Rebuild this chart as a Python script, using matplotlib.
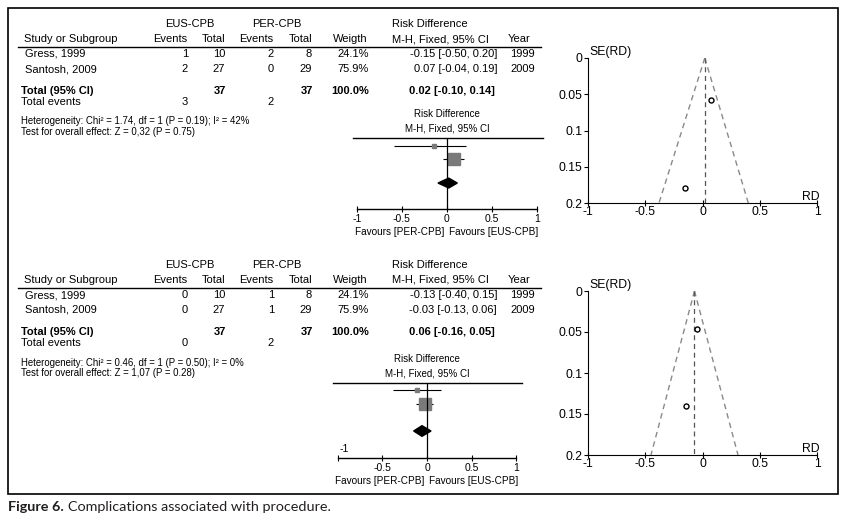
"""
Forest plots and funnel plots: complications associated with procedure
"""

import matplotlib
matplotlib.use('Agg')
import matplotlib.pyplot as plt
import matplotlib.patches as patches

plt.rcParams['font.family'] = ['Liberation Sans', 'DejaVu Sans']

W, H = 855, 525

# ---- data ----
studies = ['Gress, 1999', 'Santosh, 2009']
years = ['1999', '2009']
weight_txt = ['24.1%', '75.9%']
weights = [24.1, 75.9]

# panel A
a_eus_events = [1, 2]
a_eus_total = [10, 27]
a_per_events = [2, 0]
a_per_total = [8, 29]
a_rd_txt = ['-0.15 [-0.50, 0.20]', '0.07 [-0.04, 0.19]']
a_total_txt = '0.02 [-0.10, 0.14]'
a_total_n = [37, 37]
a_total_events = [3, 2]
a_het = 'Heterogeneity: Chi\u00b2 = 1.74, df = 1 (P = 0.19); I\u00b2 = 42%'
a_test = 'Test for overall effect: Z = 0,32 (P = 0.75)'
a_rd = [-0.14, 0.074]
a_lo = [-0.59, -0.044]
a_hi = [0.21, 0.19]
a_pool = (0.02, -0.10, 0.115)
a_fun_rd = [-0.15, 0.07]
a_fun_se = [0.179, 0.058]
a_fun_lims = (-0.38, 0.40)

# panel B
b_eus_events = [0, 0]
b_eus_total = [10, 27]
b_per_events = [1, 1]
b_per_total = [8, 29]
b_rd_txt = ['-0.13 [-0.40, 0.15]', '-0.03 [-0.13, 0.06]']
b_total_txt = '0.06 [-0.16, 0.05]'
b_total_n = [37, 37]
b_total_events = [0, 2]
b_het = 'Heterogeneity: Chi\u00b2 = 0.46, df = 1 (P = 0.50); I\u00b2 = 0%'
b_test = 'Test for overall effect: Z = 1,07 (P = 0.28)'
b_rd = [-0.11, -0.026]
b_lo = [-0.38, -0.12]
b_hi = [0.157, 0.067]
b_pool = (-0.056, -0.15, 0.045)
b_fun_rd = [-0.14, -0.05]
b_fun_se = [0.14, 0.046]
b_fun_lims = (-0.45, 0.31)

rd_ticks = [-1, -0.5, 0, 0.5, 1]
se_ticks = [0, 0.05, 0.1, 0.15, 0.2]


def px_axes(fig, x0, y0, x1, y1):
    """axes placed by pixel box (y from top)"""
    return fig.add_axes([x0 / W, 1 - y1 / H, (x1 - x0) / W, (y1 - y0) / H])


def draw_table(ax, dy, eus_ev, eus_tot, per_ev, per_tot, rd_txt, tot_txt,
               tot_n, tot_ev, het, test):
    fs = 8
    ax.text(190, 24 + dy, 'EUS-CPB', ha='center', va='center', fontsize=fs)
    ax.text(277, 24 + dy, 'PER-CPB', ha='center', va='center', fontsize=fs)
    ax.text(392, 24 + dy, 'Risk Difference', ha='left', va='center', fontsize=fs)
    hdr_y = 39 + dy
    ax.text(24, hdr_y, 'Study or Subgroup', ha='left', va='center', fontsize=fs)
    for x, s in [(187, 'Events'), (225, 'Total'), (273, 'Events'),
                 (312, 'Total'), (368, 'Weigth')]:
        ax.text(x, hdr_y, s, ha='right', va='center', fontsize=fs)
    ax.text(392, hdr_y, 'M-H, Fixed, 95% CI', ha='left', va='center', fontsize=fs)
    ax.text(508, hdr_y, 'Year', ha='left', va='center', fontsize=fs)
    ax.plot([18, 541], [46.5 + dy, 46.5 + dy], color='black', lw=1)

    for i, name in enumerate(studies):
        y = [54, 69][i] + dy
        ax.text(25, y, name, ha='left', va='center', fontsize=fs)
        ax.text(188, y, str(eus_ev[i]), ha='right', va='center', fontsize=fs)
        ax.text(225, y, str(eus_tot[i]), ha='right', va='center', fontsize=fs)
        ax.text(274, y, str(per_ev[i]), ha='right', va='center', fontsize=fs)
        ax.text(312, y, str(per_tot[i]), ha='right', va='center', fontsize=fs)
        ax.text(369, y, weight_txt[i], ha='right', va='center', fontsize=fs)
        ax.text(497, y, rd_txt[i], ha='right', va='center', fontsize=fs)
        ax.text(535, y, years[i], ha='right', va='center', fontsize=fs)

    y = 91 + dy
    ax.text(21, y, 'Total (95% CI)', ha='left', va='center', fontsize=fs,
            fontweight='bold')
    ax.text(226, y, str(tot_n[0]), ha='right', va='center', fontsize=fs,
            fontweight='bold')
    ax.text(313, y, str(tot_n[1]), ha='right', va='center', fontsize=fs,
            fontweight='bold')
    ax.text(369, y, '100.0%', ha='right', va='center', fontsize=fs,
            fontweight='bold')
    ax.text(495, y, tot_txt, ha='right', va='center', fontsize=fs,
            fontweight='bold')
    y = 102 + dy
    ax.text(21, y, 'Total events', ha='left', va='center', fontsize=fs)
    ax.text(188, y, str(tot_ev[0]), ha='right', va='center', fontsize=fs)
    ax.text(274, y, str(tot_ev[1]), ha='right', va='center', fontsize=fs)

    ax.text(21, 121.5 + dy, het, ha='left', va='center', fontsize=6.9)
    ax.text(21, 132 + dy, test, ha='left', va='center', fontsize=6.9)


def draw_forest(ax, rd, lo, hi, pool, xlim, ylim, diamond_row, odd_minus_one):
    ax.set_xlim(*xlim)
    ax.set_ylim(*ylim)
    rows = list(range(len(rd)))
    ax.hlines(rows, lo, hi, color='black', lw=0.8)
    for r, x, w in zip(rows, rd, weights):
        ax.plot(x, r, marker='s', ms=0.105 * w, color='#7a7a7a', mec='#7a7a7a')
    est, plo, phi = pool
    hh = 0.38
    dia = patches.Polygon([(plo, diamond_row), (est, diamond_row - hh),
                           (phi, diamond_row), (est, diamond_row + hh)],
                          closed=True, facecolor='black', edgecolor='black')
    ax.add_patch(dia)
    ax.axvline(0, color='black', lw=0.9)

    for s in ['left', 'right']:
        ax.spines[s].set_visible(False)
    ax.spines['top'].set_linewidth(1)
    ax.spines['bottom'].set_bounds(-1, 1)
    ax.spines['bottom'].set_linewidth(1)
    ax.set_yticks([])
    ax.set_xticks(rd_ticks)
    labels = ['-1', '-0.5', '0', '0.5', '1']
    if odd_minus_one:
        labels[0] = ''
        ax.annotate('-1', xy=(-1, 0), xycoords=('data', 'axes fraction'),
                    xytext=(1, 3), textcoords='offset points',
                    ha='left', va='bottom', fontsize=7.5)
    ax.set_xticklabels(labels)
    ax.tick_params(axis='x', direction='inout', length=5, width=0.8,
                   labelsize=7.5, pad=1)

    ax.annotate('M-H, Fixed, 95% CI', xy=(0, 1), xycoords=('data', 'axes fraction'),
                xytext=(0, 3), textcoords='offset points', ha='center',
                va='bottom', fontsize=7)
    ax.annotate('Risk Difference', xy=(0, 1), xycoords=('data', 'axes fraction'),
                xytext=(0, 13.5), textcoords='offset points', ha='center',
                va='bottom', fontsize=7)
    ax.annotate('Favours [PER-CPB]', xy=(-0.03, 0),
                xycoords=('data', 'axes fraction'), xytext=(0, -13),
                textcoords='offset points', ha='right', va='top', fontsize=7.2)
    ax.annotate('Favours [EUS-CPB]', xy=(0.02, 0),
                xycoords=('data', 'axes fraction'), xytext=(0, -13),
                textcoords='offset points', ha='left', va='top', fontsize=7.2)


def draw_funnel(ax, fun_rd, fun_se, pool_est, lims):
    ax.set_xlim(-1, 1)
    ax.set_ylim(0.2, 0)
    ax.plot([pool_est, lims[0]], [0, 0.2], ls=(0, (4, 3)), color='#8a8a8a', lw=1)
    ax.plot([pool_est, lims[1]], [0, 0.2], ls=(0, (4, 3)), color='#8a8a8a', lw=1)
    ax.plot([pool_est, pool_est], [0, 0.2], ls=(0, (4, 3)), color='#555555', lw=0.9)
    ax.plot(fun_rd, fun_se, ls='none', marker='o', ms=3.6, mfc='white',
            mec='black', mew=1)
    for s in ['top', 'right']:
        ax.spines[s].set_visible(False)
    ax.set_xticks(rd_ticks)
    ax.set_xticklabels(['-1', '-0.5', '0', '0.5', '1'])
    ax.set_yticks(se_ticks)
    ax.set_yticklabels(['0', '0.05', '0.1', '0.15', '0.2'])
    ax.tick_params(axis='x', direction='inout', length=4, labelsize=8.8, pad=0)
    ax.tick_params(axis='y', direction='out', length=3, labelsize=8.8, pad=1)
    ax.text(-0.985, 0, 'SE(RD)', ha='left', va='bottom', fontsize=8.8)
    ax.text(1.02, 0.2, 'RD', ha='right', va='bottom', fontsize=8.8)


fig = plt.figure(figsize=(W / 100, H / 100), dpi=100)
ax0 = fig.add_axes([0, 0, 1, 1])
ax0.set_xlim(0, W)
ax0.set_ylim(H, 0)
ax0.axis('off')

ax0.add_patch(patches.Rectangle((8, 8), 830, 486, fill=False,
                                edgecolor='black', lw=1.2))

draw_table(ax0, 0, a_eus_events, a_eus_total, a_per_events, a_per_total,
           a_rd_txt, a_total_txt, a_total_n, a_total_events, a_het, a_test)
draw_table(ax0, 241, b_eus_events, b_eus_total, b_per_events, b_per_total,
           b_rd_txt, b_total_txt, b_total_n, b_total_events, b_het, b_test)

fa = px_axes(fig, 353, 138, 543, 209)
draw_forest(fa, a_rd, a_lo, a_hi, a_pool, (-1.044, 1.067), (4.85, -0.62),
            2.85, False)
fb = px_axes(fig, 333, 383, 522, 458)
draw_forest(fb, b_rd, b_lo, b_hi, b_pool, (-1.053, 1.064), (4.86, -0.5),
            2.93, True)

ga = px_axes(fig, 588, 58, 817, 203)
draw_funnel(ga, a_fun_rd, a_fun_se, a_pool[0], a_fun_lims)
gb = px_axes(fig, 588, 291, 817, 455)
draw_funnel(gb, b_fun_rd, b_fun_se, -0.07, b_fun_lims)

# caption
cap1 = ax0.text(8, 507, 'Figure 6.', ha='left', va='center', fontsize=10.4,
                fontweight='bold', family=['Lato', 'DejaVu Sans'],
                color='#231f20')
fig.canvas.draw()
bb = cap1.get_window_extent()
ax0.text(bb.x1 + 4, 507, 'Complications associated with procedure.',
         ha='left', va='center', fontsize=10.4, family=['Lato', 'DejaVu Sans'],
         color='#231f20')

fig.savefig('out.png', dpi=100)
plt.close('all')
